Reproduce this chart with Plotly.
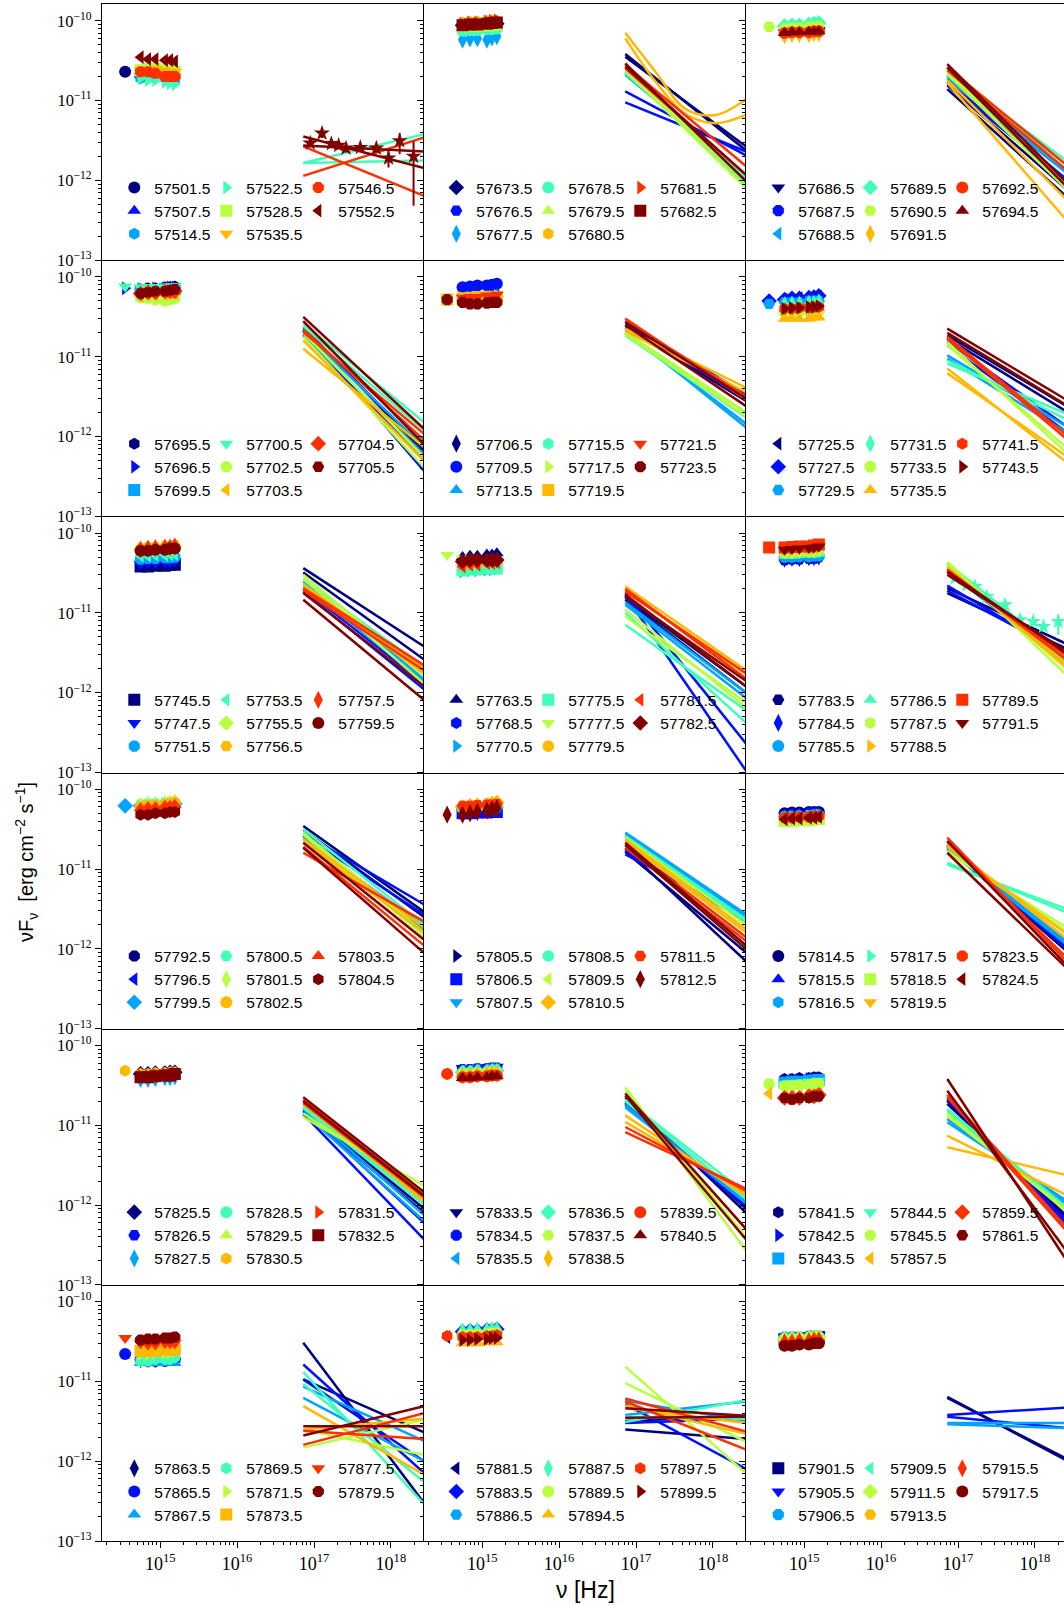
import plotly.graph_objects as go

# ---------------- data ----------------
EPOCHS = [
    ["57501.5", "57507.5", "57514.5", "57522.5", "57528.5", "57535.5", "57546.5", "57552.5"],
    ["57673.5", "57676.5", "57677.5", "57678.5", "57679.5", "57680.5", "57681.5", "57682.5"],
    ["57686.5", "57687.5", "57688.5", "57689.5", "57690.5", "57691.5", "57692.5", "57694.5"],
    ["57695.5", "57696.5", "57699.5", "57700.5", "57702.5", "57703.5", "57704.5", "57705.5"],
    ["57706.5", "57709.5", "57713.5", "57715.5", "57717.5", "57719.5", "57721.5", "57723.5"],
    ["57725.5", "57727.5", "57729.5", "57731.5", "57733.5", "57735.5", "57741.5", "57743.5"],
    ["57745.5", "57747.5", "57751.5", "57753.5", "57755.5", "57756.5", "57757.5", "57759.5"],
    ["57763.5", "57768.5", "57770.5", "57775.5", "57777.5", "57779.5", "57781.5", "57782.5"],
    ["57783.5", "57784.5", "57785.5", "57786.5", "57787.5", "57788.5", "57789.5", "57791.5"],
    ["57792.5", "57796.5", "57799.5", "57800.5", "57801.5", "57802.5", "57803.5", "57804.5"],
    ["57805.5", "57806.5", "57807.5", "57808.5", "57809.5", "57810.5", "57811.5", "57812.5"],
    ["57814.5", "57815.5", "57816.5", "57817.5", "57818.5", "57819.5", "57823.5", "57824.5"],
    ["57825.5", "57826.5", "57827.5", "57828.5", "57829.5", "57830.5", "57831.5", "57832.5"],
    ["57833.5", "57834.5", "57835.5", "57836.5", "57837.5", "57838.5", "57839.5", "57840.5"],
    ["57841.5", "57842.5", "57843.5", "57844.5", "57845.5", "57857.5", "57859.5", "57861.5"],
    ["57863.5", "57865.5", "57867.5", "57869.5", "57871.5", "57873.5", "57877.5", "57879.5"],
    ["57881.5", "57883.5", "57886.5", "57887.5", "57889.5", "57894.5", "57897.5", "57899.5"],
    ["57901.5", "57905.5", "57906.5", "57909.5", "57911.5", "57913.5", "57915.5", "57917.5"],
]

# optical/UV frequencies (V, B, U, W1, M2, W2) and the extra red-band point
OPT_NU = [5.55e14, 6.93e14, 8.65e14, 1.15e15, 1.34e15, 1.55e15]
R_NU = 3.5e14

# optical/UV nuFnu in units of 1e-12 erg cm^-2 s^-1
OPT_FLUX = {
    "57501.5": [21, 21, 20, 20, 20, 20], "57507.5": [21, 21, 21, 22, 22, 22],
    "57514.5": [19, 19, 19, 19, 18, 18], "57522.5": [19, 18, 18, 17, 16.5, 16],
    "57528.5": [24, 25, 25, 24, 24, 23], "57535.5": [24, 24, 25, 24, 23, 23],
    "57546.5": [23, 23, 22, 20, 20, 20], "57552.5": [35, 33, 33, 32, 32, 31],
    "57673.5": [88, 88, 90, 90, 92, 92], "57676.5": [85, 85, 86, 86, 88, 88],
    "57677.5": [58, 60, 60, 58, 62, 64], "57678.5": [75, 76, 76, 78, 78, 80],
    "57679.5": [78, 80, 80, 80, 82, 82], "57680.5": [95, 98, 98, 100, 100, 100],
    "57681.5": [92, 95, 95, 98, 100, 102], "57682.5": [88, 90, 90, 92, 94, 95],
    "57686.5": [72, 74, 74, 75, 75, 76], "57687.5": [74, 75, 76, 76, 77, 78],
    "57688.5": [80, 80, 82, 82, 84, 84], "57689.5": [86, 88, 88, 90, 92, 94],
    "57690.5": [80, 82, 82, 84, 85, 86], "57691.5": [66, 68, 68, 68, 70, 70],
    "57692.5": [70, 72, 72, 72, 74, 74], "57694.5": [70, 72, 72, 73, 73, 74],
    "57695.5": [70, 72, 72, 74, 75, 76], "57696.5": [70, 70, 72, 72, 74, 74],
    "57699.5": [66, 68, 68, 70, 70, 70], "57700.5": [74, 74, 75, 75, 76, 76],
    "57702.5": [55, 54, 52, 50, 52, 54], "57703.5": [58, 60, 60, 60, 62, 62],
    "57704.5": [62, 64, 64, 66, 66, 66], "57705.5": [62, 64, 66, 66, 68, 70],
    "57706.5": [55, 56, 56, 58, 58, 60], "57709.5": [74, 76, 78, 78, 80, 82],
    "57713.5": [54, 56, 56, 58, 58, 60], "57715.5": [52, 54, 54, 55, 56, 56],
    "57717.5": [54, 55, 55, 56, 56, 58], "57719.5": [54, 54, 56, 56, 56, 56],
    "57721.5": [55, 56, 56, 58, 58, 60], "57723.5": [48, 46, 46, 47, 48, 48],
    "57725.5": [52, 52, 54, 54, 55, 56], "57727.5": [52, 54, 54, 55, 56, 58],
    "57729.5": [48, 48, 48, 50, 50, 50], "57731.5": [44, 45, 45, 46, 46, 48],
    "57733.5": [36, 36, 37, 37, 38, 38], "57735.5": [30, 30, 30, 30, 31, 31],
    "57741.5": [40, 40, 41, 41, 42, 42], "57743.5": [40, 41, 41, 42, 42, 43],
    "57745.5": [38, 38, 39, 39, 40, 40], "57747.5": [41, 42, 42, 43, 43, 44],
    "57751.5": [47, 48, 48, 49, 49, 50], "57753.5": [52, 52, 53, 53, 54, 54],
    "57755.5": [62, 64, 64, 65, 66, 66], "57756.5": [64, 66, 66, 68, 68, 70],
    "57757.5": [62, 64, 65, 66, 66, 68], "57759.5": [60, 60, 62, 62, 64, 64],
    "57763.5": [50, 52, 52, 54, 54, 56], "57768.5": [36, 38, 38, 40, 40, 42],
    "57770.5": [33, 34, 34, 35, 35, 36], "57775.5": [34, 35, 35, 36, 36, 36],
    "57777.5": [48, 46, 45, 45, 44, 44], "57779.5": [40, 42, 42, 44, 44, 44],
    "57781.5": [38, 40, 40, 42, 42, 43], "57782.5": [44, 46, 46, 46, 46, 46],
    "57783.5": [46, 47, 47, 48, 48, 50], "57784.5": [48, 49, 49, 50, 50, 51],
    "57785.5": [50, 50, 51, 51, 52, 52], "57786.5": [52, 52, 53, 54, 54, 55],
    "57787.5": [56, 56, 57, 58, 58, 60], "57788.5": [62, 62, 63, 64, 64, 66],
    "57789.5": [66, 67, 68, 68, 70, 72], "57791.5": [62, 63, 64, 65, 66, 68],
    "57792.5": [58, 58, 60, 60, 62, 62], "57796.5": [60, 60, 62, 62, 64, 64],
    "57799.5": [62, 62, 64, 64, 65, 66], "57800.5": [64, 66, 66, 68, 68, 68],
    "57801.5": [62, 64, 64, 66, 66, 68], "57802.5": [60, 62, 62, 64, 66, 68],
    "57803.5": [58, 60, 60, 62, 62, 64], "57804.5": [48, 48, 50, 50, 52, 52],
    "57805.5": [52, 52, 53, 53, 54, 54], "57806.5": [50, 50, 51, 51, 52, 52],
    "57807.5": [52, 52, 53, 54, 54, 55], "57808.5": [58, 58, 59, 60, 60, 62],
    "57809.5": [58, 60, 60, 61, 62, 62], "57810.5": [60, 62, 63, 64, 66, 68],
    "57811.5": [62, 62, 63, 64, 64, 65], "57812.5": [48, 50, 52, 54, 56, 58],
    "57814.5": [50, 51, 51, 52, 52, 52], "57815.5": [48, 50, 50, 52, 52, 52],
    "57816.5": [46, 46, 47, 47, 48, 48], "57817.5": [44, 45, 45, 46, 46, 47],
    "57818.5": [40, 40, 41, 41, 42, 42], "57819.5": [42, 42, 43, 43, 44, 44],
    "57823.5": [44, 44, 45, 45, 46, 46], "57824.5": [42, 43, 43, 44, 44, 45],
    "57825.5": [44, 44, 45, 45, 46, 46], "57826.5": [42, 43, 43, 44, 44, 45],
    "57827.5": [38, 38, 39, 40, 40, 41], "57828.5": [42, 42, 43, 43, 44, 44],
    "57829.5": [44, 44, 45, 45, 46, 46], "57830.5": [44, 44, 45, 45, 46, 46],
    "57831.5": [42, 42, 43, 44, 44, 45], "57832.5": [40, 40, 41, 42, 42, 44],
    "57833.5": [52, 52, 53, 53, 54, 54], "57834.5": [50, 50, 51, 51, 52, 52],
    "57835.5": [48, 48, 49, 49, 50, 50], "57836.5": [46, 46, 47, 47, 48, 48],
    "57837.5": [44, 44, 45, 45, 46, 46], "57838.5": [42, 42, 43, 43, 44, 44],
    "57839.5": [40, 40, 41, 41, 42, 42], "57840.5": [39, 39, 40, 40, 41, 41],
    "57841.5": [38, 38, 39, 39, 40, 40], "57842.5": [36, 37, 37, 38, 38, 39],
    "57843.5": [34, 35, 35, 36, 36, 37], "57844.5": [33, 34, 34, 35, 35, 36],
    "57845.5": [31, 31, 32, 32, 33, 33], "57857.5": [23, 23, 23, 24, 24, 24],
    "57859.5": [22, 22, 22, 23, 23, 24], "57861.5": [22, 21, 22, 22, 23, 23],
    "57863.5": [19, 19, 19, 20, 20, 20], "57865.5": [19, 18, 18, 18, 19, 19],
    "57867.5": [17, 17, 17, 17, 17, 17], "57869.5": [18, 18, 19, 19, 19, 20],
    "57871.5": [22, 22, 23, 23, 23, 24], "57873.5": [24, 24, 24, 25, 25, 25],
    "57877.5": [30, 29, 29, 30, 30, 30], "57879.5": [33, 34, 34, 35, 35, 36],
    "57881.5": [38, 38, 39, 39, 40, 40], "57883.5": [42, 43, 43, 44, 44, 45],
    "57886.5": [40, 41, 41, 42, 42, 43], "57887.5": [42, 42, 43, 43, 44, 44],
    "57889.5": [38, 38, 39, 39, 40, 40], "57894.5": [30, 30, 30, 31, 31, 31],
    "57897.5": [36, 36, 36, 37, 37, 38], "57899.5": [33, 33, 34, 34, 35, 35],
    "57901.5": [34, 34, 35, 35, 36, 36], "57905.5": [36, 36, 37, 37, 38, 38],
    "57906.5": [36, 36, 36, 37, 37, 37], "57909.5": [33, 33, 34, 34, 35, 35],
    "57911.5": [34, 34, 35, 35, 36, 36], "57913.5": [31, 31, 32, 32, 32, 33],
    "57915.5": [31, 31, 32, 32, 33, 33], "57917.5": [28, 28, 29, 29, 30, 30],
}

# extra low-frequency point (units 1e-12)
R_FLUX = {
    "57501.5": 23, "57690.5": 84, "57696.5": 72, "57700.5": 76, "57719.5": 52,
    "57723.5": 52, "57727.5": 50, "57729.5": 46, "57777.5": 53, "57789.5": 66,
    "57799.5": 62, "57812.5": 48, "57830.5": 48, "57839.5": 44, "57845.5": 33,
    "57857.5": 25, "57865.5": 22, "57877.5": 35, "57881.5": 36, "57897.5": 37,
}

# X-ray model curves: flux (1e-12) at the start/end (2 values) or at 5 frequencies
XRAY_NU2 = [7.25e16, 2.7e18]
XRAY_NU5 = [7.25e16, 1.79e17, 4.42e17, 1.09e18, 2.7e18]
XRAY_LINES = {
    "57522.5": [[1.65, 1.77], [1.65, 3.8]],
    "57546.5": [[1.14, 3.45], [2.66, 0.64]],
    "57552.5": [[3.55, 1.43], [2.74, 2.30]],
    "57673.5": [[38.3, 2.37], [35.5, 2.65]],
    "57676.5": [[13.0, 2.05], [9.5, 2.3]],
    "57677.5": [[22, 1.0], [21, 1.17]],
    "57678.5": [[23.1, 0.88], [22, 1.1]],
    "57679.5": [[23.7, 0.8], [25.4, 0.93]],
    "57680.5": [[70.8, 23, 7.8, 6.6, 10.4], [60.2, 17.3, 6.75, 5.2, 6.6]],
    "57681.5": [[27.9, 1.5], [25.4, 1.17]],
    "57682.5": [[29.3, 0.97], [26.6, 1.17]],
    "57686.5": [[13.9, 0.6], [15.5, 0.75]],
    "57687.5": [[16, 0.95], [17.5, 1.0]],
    "57688.5": [[19, 1.2], [20.4, 1.3]],
    "57689.5": [[22.5, 1.7], [21, 1.5]],
    "57690.5": [[21.4, 0.75], [23, 0.85]],
    "57691.5": [[16.8, 0.30], [18, 0.55]],
    "57692.5": [[26, 1.5], [24, 1.3]],
    "57694.5": [[28.6, 0.9], [26, 0.8]],
    "57695.5": [[23.6, 0.63], [22, 0.7]],
    "57696.5": [[21.4, 0.37], [19, 0.5]],
    "57699.5": [[20.4, 0.74], [18.5, 0.6]],
    "57700.5": [[26, 1.51], [24, 1.2]],
    "57702.5": [[17.7, 0.41], [20, 0.55]],
    "57703.5": [[12.6, 0.74], [16, 0.5]],
    "57704.5": [[20.4, 1.08], [22, 0.9]],
    "57705.5": [[31.5, 1.25], [28, 0.8]],
    "57706.5": [[24.7, 3.3], [23, 2.8]],
    "57709.5": [[27, 3.4], [25, 3.0]],
    "57713.5": [[21.4, 1.3], [20, 1.45]],
    "57715.5": [[18.5, 1.75], [20, 2.0]],
    "57717.5": [[20.4, 2.0], [19, 1.8]],
    "57719.5": [[22.5, 4.1], [21, 3.6]],
    "57721.5": [[30, 2.9], [28, 3.2]],
    "57723.5": [[27.2, 3.0], [25, 2.4]],
    "57725.5": [[18.5, 2.35], [17, 2.0]],
    "57727.5": [[13.9, 1.1], [15.5, 1.3]],
    "57729.5": [[10.4, 1.3], [9.5, 1.1]],
    "57731.5": [[8.2, 1.9], [9, 1.6]],
    "57733.5": [[15.3, 0.6], [14, 0.7]],
    "57735.5": [[7.1, 0.46], [6.2, 0.55]],
    "57741.5": [[16.8, 0.9], [18, 1.0]],
    "57743.5": [[22.5, 2.8], [20, 2.4]],
    "57745.5": [[36.4, 3.8], [32, 2.6]],
    "57747.5": [[18.5, 1.1], [20, 1.3]],
    "57751.5": [[24.7, 1.5], [22, 1.4]],
    "57753.5": [[26, 2.1], [23, 1.8]],
    "57755.5": [[30, 1.6], [27, 1.3]],
    "57756.5": [[21.4, 1.75], [22.5, 2.0]],
    "57757.5": [[20.4, 2.2], [19, 1.9]],
    "57759.5": [[17.7, 1.2], [14.6, 0.81]],
    "57763.5": [[14.6, 1.0], [15.5, 1.2]],
    "57768.5": [[17.7, 0.23], [16.5, 0.105]],
    "57770.5": [[12.6, 0.86], [13.5, 1.0]],
    "57775.5": [[10, 0.42], [7.1, 0.6]],
    "57777.5": [[9, 0.75], [11, 0.65]],
    "57779.5": [[21.4, 1.9], [19, 1.7]],
    "57781.5": [[18.5, 1.75], [20, 1.5]],
    "57782.5": [[16, 1.4], [17, 1.2]],
    "57783.5": [[20.4, 4.0], [17.7, 3.5]],
    "57784.5": [[19, 3.0], [22, 2.8]],
    "57785.5": [[36, 2.4], [33, 2.2]],
    "57786.5": [[42, 2.6], [38, 2.3]],
    "57787.5": [[44, 1.6], [40, 1.9]],
    "57788.5": [[38, 2.0], [35, 2.2]],
    "57789.5": [[35, 2.5], [32, 2.8]],
    "57791.5": [[33, 3.0], [30, 3.2]],
    "57792.5": [[34.7, 2.9], [31, 2.5]],
    "57796.5": [[28, 3.6], [26, 2.7]],
    "57799.5": [[26, 1.75], [24, 1.9]],
    "57800.5": [[31.5, 2.0], [28, 1.6]],
    "57801.5": [[28.6, 1.6], [27, 1.45]],
    "57802.5": [[23.6, 1.84], [22, 1.6]],
    "57803.5": [[16, 2.2], [19, 1.1]],
    "57804.5": [[21.4, 1.3], [18.5, 0.89]],
    "57805.5": [[18, 0.7], [16.5, 0.9]],
    "57806.5": [[15.3, 2.5], [17, 2.2]],
    "57807.5": [[28.6, 2.7], [27, 2.5]],
    "57808.5": [[26, 2.35], [25, 2.2]],
    "57809.5": [[24.7, 2.0], [23, 1.8]],
    "57810.5": [[23.6, 1.75], [22, 1.6]],
    "57811.5": [[18.5, 1.25], [20, 1.4]],
    "57812.5": [[21.4, 1.1], [20, 1.0]],
    "57814.5": [[20, 1.0], [19, 0.9]],
    "57815.5": [[20, 1.1], [18, 1.0]],
    "57816.5": [[19, 1.2], [18, 1.1]],
    "57817.5": [[11.4, 3.1], [12, 2.8]],
    "57818.5": [[16, 1.8], [17, 1.6]],
    "57819.5": [[20.4, 1.3], [19, 1.5]],
    "57823.5": [[24.7, 0.67], [22, 0.75]],
    "57824.5": [[22.5, 0.6], [16, 0.55]],
    "57825.5": [[14.5, 0.8], [15.5, 0.9]],
    "57826.5": [[13.9, 0.37], [15, 0.6]],
    "57827.5": [[14.5, 0.63], [16, 0.75]],
    "57828.5": [[16.5, 1.0], [17.5, 1.1]],
    "57829.5": [[12.6, 1.75], [14, 1.5]],
    "57830.5": [[20.4, 1.1], [18.5, 1.2]],
    "57831.5": [[19, 1.25], [21, 1.3]],
    "57832.5": [[22.5, 1.45], [20, 1.3]],
    "57833.5": [[22, 0.8], [20, 0.9]],
    "57834.5": [[19, 1.0], [18, 0.95]],
    "57835.5": [[16.8, 1.1], [18, 1.05]],
    "57836.5": [[20, 1.2], [21, 1.4]],
    "57837.5": [[30, 0.27], [27, 0.4]],
    "57838.5": [[13.3, 1.3], [11, 1.4]],
    "57839.5": [[8.2, 1.6], [9.5, 1.5]],
    "57840.5": [[23.6, 0.37], [25, 0.5]],
    "57841.5": [[20, 0.65], [18.5, 0.7]],
    "57842.5": [[22, 0.55], [21, 0.6]],
    "57843.5": [[10.9, 1.1], [12, 1.0]],
    "57844.5": [[16, 0.9], [15, 0.85]],
    "57845.5": [[14, 0.8], [13, 0.85]],
    "57857.5": [[7.4, 1.3], [5.3, 2.35]],
    "57859.5": [[22.5, 0.45], [24, 0.5]],
    "57861.5": [[38, 0.19], [27, 0.25]],
    "57863.5": [[30.6, 0.30], [10.6, 2.3]],
    "57865.5": [[16.3, 0.71], [10.6, 1.0]],
    "57867.5": [[8.6, 1.8], [6.2, 1.0]],
    "57869.5": [[13.1, 0.29], [9.3, 0.55]],
    "57871.5": [[1.48, 3.3], [2.5, 1.2]],
    "57873.5": [[4.9, 0.68], [2.5, 3.4]],
    "57877.5": [[2.4, 1.9], [1.6, 4.0]],
    "57879.5": [[2.75, 2.75], [2.1, 4.9]],
    "57881.5": [[3.2, 3.7], [2.5, 1.9]],
    "57883.5": [[5.2, 0.8], [3.0, 3.4]],
    "57886.5": [[5.7, 3.2], [3.8, 5.6]],
    "57887.5": [[3.1, 5.8], [3.6, 3.4]],
    "57889.5": [[15.3, 0.7], [9.5, 1.75]],
    "57894.5": [[4.6, 3.0], [5.0, 2.2]],
    "57897.5": [[6.1, 2.35], [5.6, 1.4]],
    "57899.5": [[4.6, 3.7], [3.5, 3.6]],
    "57901.5": [[6.4, 1.0], [6.2, 1.05]],
    "57905.5": [[3.8, 4.7], [3.6, 2.6]],
    "57906.5": [[3.0, 3.0], [2.9, 2.6]],
}

# X-ray spectral points (1e-12)
XPTS_EPOCHS = ["57552.5", "57786.5"]
XPTS_NU = [
    [8.95e16, 1.27e17, 1.68e17, 2.09e17, 2.61e17, 4.0e17, 6.46e17, 9.3e17, 1.30e18, 1.97e18],
    [9.14e16, 1.30e17, 1.66e17, 2.36e17, 4.08e17, 6.40e17, 9.53e17, 1.29e18, 2.01e18],
]
XPTS_F = [
    [2.93, 3.9, 2.88, 2.74, 2.53, 2.58, 2.53, 1.90, 3.13, 2.0],
    [27.1, 22.3, 21.4, 16.0, 12.6, 8.2, 7.8, 6.75, 7.8],
]
XPTS_UP = [
    [0.35, 0.6, 0.4, 0.3, 0.3, 0.3, 0.35, 0.45, 0.8, 1.1],
    [2.0, 1.8, 1.8, 1.5, 1.4, 1.0, 1.0, 1.0, 1.7],
]
XPTS_DN = [
    [0.35, 0.5, 0.35, 0.3, 0.3, 0.3, 0.3, 0.45, 1.0, 1.52],
    [2.0, 1.8, 1.8, 1.5, 1.4, 1.0, 1.0, 1.0, 2.5],
]

X_TICKS = [1e15, 1e16, 1e17, 1e18]
X_TICKTEXT = ["10<sup>15</sup>", "10<sup>16</sup>", "10<sup>17</sup>", "10<sup>18</sup>"]
Y_TICKS = [1e-13, 1e-12, 1e-11, 1e-10]
Y_TICKTEXT = ["10<sup>−13</sup>", "10<sup>−12</sup>", "10<sup>−11</sup>", "10<sup>−10</sup>"]

# ---------------- styles ----------------
COLORS = ["#000080", "#0010ff", "#00a4ff", "#40ffb7", "#b7ff40", "#ffb900", "#ff3000", "#800000"]
MARKERS = ["circle", "triangle-up", "hexagon", "triangle-right", "square", "triangle-down",
           "octagon", "triangle-left", "diamond", "hexagon2", "diamond-tall"]
UNIT = 1e-12

W, H = 1064, 1605
PL, PR, PT, PB = 102, 1064, 4, 1541
COL_EDGES = [102, 424, 746, 1064]
ROW_H = (PB - PT) / 6.0
DEC_PX = 76.9
X0 = 14.243
Y_RANGE = [-13, -9.79]

minor_x = [k * 10.0 ** e for e in range(14, 19) for k in range(2, 10)]
minor_y = [k * 10.0 ** e for e in range(-13, -10) for k in range(2, 10)]


def clamp(v):
    return min(1.0, max(0.0, round(v, 6)))


def px2paper_x(px):
    return (px - PL) / (PR - PL)


def px2paper_y(py):
    return (PB - py) / (PB - PT)


fig = go.Figure()
layout = dict(
    width=W, height=H,
    margin=dict(l=PL, r=W - PR, t=PT, b=H - PB, autoexpand=False),
    paper_bgcolor="white", plot_bgcolor="white",
    showlegend=True,
    font=dict(family="Liberation Sans", color="black"),
)

for p in range(18):
    r, c = divmod(p, 3)
    sfx = "" if p == 0 else str(p + 1)
    xa, ya = "x" + sfx, "y" + sfx
    for i, ep in enumerate(EPOCHS[p]):
        col = COLORS[i]
        mk = MARKERS[(p * 8 + i) % len(MARKERS)]
        ln = p * 3 + i // 3 + 1
        legname = "legend" if ln == 1 else "legend%d" % ln
        nu = list(OPT_NU)
        fl = list(OPT_FLUX[ep])
        if ep in R_FLUX:
            nu = [R_NU] + nu
            fl = [R_FLUX[ep]] + fl
        fig.add_trace(go.Scatter(
            x=nu, y=[v * UNIT for v in fl], mode="markers", name=ep,
            marker=dict(symbol=mk, color=col, size=13 if mk == "diamond-tall" else 12),
            legend=legname, xaxis=xa, yaxis=ya, hoverinfo="skip"))
        for line in XRAY_LINES.get(ep, []):
            xs = XRAY_NU2 if len(line) == 2 else XRAY_NU5
            fig.add_trace(go.Scatter(
                x=xs, y=[v * UNIT for v in line], mode="lines", showlegend=False,
                line=dict(color=col, width=2.5, shape="spline" if len(line) > 2 else "linear"),
                xaxis=xa, yaxis=ya, hoverinfo="skip"))
        if ep in XPTS_EPOCHS:
            k = XPTS_EPOCHS.index(ep)
            fig.add_trace(go.Scatter(
                x=XPTS_NU[k], y=[v * UNIT for v in XPTS_F[k]], mode="markers", showlegend=False,
                marker=dict(symbol="star", color=col, size=12),
                error_y=dict(type="data", symmetric=False,
                             array=[v * UNIT for v in XPTS_UP[k]],
                             arrayminus=[v * UNIT for v in XPTS_DN[k]],
                             color=col, thickness=2, width=0),
                xaxis=xa, yaxis=ya, hoverinfo="skip"))

    # axes
    xl, xr = COL_EDGES[c], COL_EDGES[c + 1]
    top = PT + r * ROW_H
    bot = top + ROW_H
    bottom_row = (r == 5)
    layout["xaxis" + sfx] = dict(
        type="log", range=[X0, X0 + (xr - xl) / DEC_PX],
        domain=[clamp(px2paper_x(xl)), clamp(px2paper_x(xr))], anchor=ya,
        showline=True, linecolor="black", linewidth=1.3, mirror=(r == 0),
        showgrid=False, zeroline=False,
        ticks="outside" if bottom_row else "", ticklen=6, tickwidth=1.2, tickcolor="black",
        tickvals=X_TICKS, ticktext=X_TICKTEXT, showticklabels=bottom_row,
        tickfont=dict(family="Liberation Serif", size=18, color="black"),
        minor=dict(ticks="outside" if bottom_row else "", tickvals=minor_x, ticklen=3,
                   tickwidth=1, tickcolor="black", showgrid=False),
    )
    layout["yaxis" + sfx] = dict(
        type="log", range=Y_RANGE,
        domain=[clamp(px2paper_y(bot)), clamp(px2paper_y(top))], anchor=xa,
        showline=True, linecolor="black", linewidth=1.3, mirror=False,
        showgrid=False, zeroline=False,
        ticks="outside", ticklen=6, tickwidth=1.2, tickcolor="black",
        tickvals=Y_TICKS, ticktext=Y_TICKTEXT, showticklabels=(c == 0),
        tickfont=dict(family="Liberation Serif", size=16.5, color="black"),
        minor=dict(ticks="outside", tickvals=minor_y, ticklen=3, tickwidth=1,
                   tickcolor="black", showgrid=False),
    )

    # legends (three columns per panel)
    for j in range(3):
        ln = p * 3 + j + 1
        legname = "legend" if ln == 1 else "legend%d" % ln
        mx = xl + 32.3 + 92 * j
        my = top + 183.5
        layout[legname] = dict(
            x=px2paper_x(mx - 20), y=px2paper_y(my - 16.6),
            xanchor="left", yanchor="top", orientation="v",
            bgcolor="rgba(0,0,0,0)", borderwidth=0, tracegroupgap=0,
            font=dict(family="Liberation Sans", size=15.5, color="black"),
            itemclick=False, itemdoubleclick=False,
        )

layout["annotations"] = [
    dict(text="νF<sub>ν</sub>  [erg cm<sup>−2</sup> s<sup>−1</sup>]",
         x=px2paper_x(26), y=px2paper_y(862), xref="paper", yref="paper",
         showarrow=False, textangle=-90, xanchor="center", yanchor="middle",
         font=dict(family="Liberation Sans", size=20, color="black")),
    dict(text="ν [Hz]", x=px2paper_x(585), y=px2paper_y(1590), xref="paper", yref="paper",
         showarrow=False, xanchor="center", yanchor="middle",
         font=dict(family="Liberation Sans", size=23, color="black")),
]

fig.update_layout(**layout)
fig.write_html("out.html", config={"displayModeBar": False})
